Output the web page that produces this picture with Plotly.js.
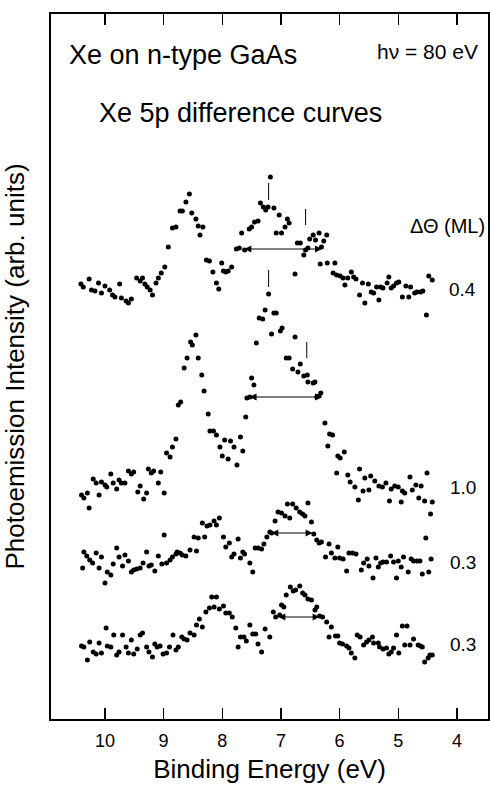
<!DOCTYPE html>
<html>
<head>
<meta charset="utf-8">
<script src="https://cdn.plot.ly/plotly-3.0.1.min.js"></script>
<style>html,body{margin:0;padding:0;background:#fff;}#chart{width:490px;height:789px;}</style>
</head>
<body>
<div id="chart"></div>
<script>
// Binding energy (eV) and photoemission intensity (arb. units, curves offset)
const e04 = [10.41,10.37,10.27,10.23,10.17,10.11,10.06,10.00,9.92,9.87,9.83,9.75,9.72,9.64,9.60,9.55,9.46,9.40,9.36,9.32,9.28,9.23,9.19,9.13,9.09,9.04,8.98,8.92,8.85,8.79,8.72,8.68,8.62,8.56,8.52,8.45,8.41,8.38,8.33,8.27,8.22,8.16,8.10,8.06,8.01,7.98,7.94,7.90,7.84,7.76,7.71,7.67,7.62,7.54,7.50,7.45,7.39,7.35,7.30,7.26,7.22,7.18,7.12,7.08,7.03,6.99,6.93,6.89,6.86,6.76,6.72,6.67,6.61,6.58,6.54,6.51,6.45,6.41,6.35,6.31,6.27,6.22,6.33,6.21,6.08,6.11,6.05,5.99,5.94,5.91,5.86,5.80,5.76,5.72,5.66,5.61,5.57,5.51,5.46,5.42,5.37,5.33,5.30,5.26,5.19,5.16,5.12,5.08,5.03,4.99,4.93,4.87,4.82,4.79,4.72,4.68,4.62,4.58,4.48,4.42,4.52];
const i04 = [43.5,43.2,44.0,42.9,42.8,43.6,42.6,43.3,42.9,42.4,42.2,43.5,42.1,41.8,41.6,42.0,44.1,43.8,44.1,43.5,43.2,42.9,42.4,43.6,44.1,44.6,45.2,47.2,49.1,49.2,50.8,50.8,51.7,52.5,50.6,50.0,49.3,48.4,49.2,45.9,45.8,44.7,43.6,43.0,45.6,44.8,44.7,44.8,45.2,47.0,47.1,48.6,46.9,49.0,49.2,49.7,49.8,51.6,51.2,50.9,51.2,54.2,51.1,48.6,50.4,48.6,49.2,50.0,49.6,44.5,47.6,47.6,46.4,46.9,47.1,48.0,48.4,47.9,48.6,47.2,47.8,48.4,45.5,45.6,45.6,44.6,44.4,44.3,44.1,43.4,44.1,44.7,44.2,44.0,42.4,43.6,41.6,43.5,42.7,42.6,43.2,41.9,43.2,43.1,43.6,44.2,43.1,43.3,43.6,43.7,42.2,43.3,42.2,43.2,42.6,42.7,42.7,42.8,44.3,43.9,40.4];

const e10 = [10.40,10.36,10.30,10.27,10.20,10.15,10.10,10.06,10.00,9.97,9.90,9.86,9.80,9.76,9.72,9.66,9.60,9.55,9.51,9.44,9.40,9.34,9.29,9.26,9.21,9.17,9.09,9.05,8.99,8.95,8.89,8.85,8.79,8.75,8.71,8.65,8.60,8.54,8.51,8.45,8.41,8.35,8.31,8.24,8.21,8.15,8.10,8.04,8.00,7.96,7.90,7.86,7.80,7.75,7.69,7.65,7.60,7.58,7.53,7.50,7.46,7.42,
  7.37,7.31,7.27,7.16,7.12,7.08,7.01,6.98,6.91,6.86,6.80,6.76,6.71,6.67,6.61,6.55,6.54,6.45,6.42,6.39,6.35,6.32,6.25,6.17,6.12,6.20,6.03,5.99,5.92,6.05,5.86,5.82,5.74,5.66,5.60,5.57,5.50,5.47,5.40,5.33,5.27,5.21,5.15,5.12,5.06,5.00,4.93,4.89,4.80,4.76,4.70,4.65,4.61,4.55,4.51,4.42,5.68,4.95,7.21,4.45];
const i10 = [22.4,22.1,22.6,21.1,24.0,23.6,22.4,23.7,23.4,23.2,24.5,23.6,23.0,23.9,23.6,23.6,24.8,24.5,24.7,22.7,23.3,22.0,22.6,25.0,24.6,24.8,23.6,24.7,22.6,26.6,26.2,27.2,28.0,31.4,31.7,35.1,36.1,37.7,37.4,38.4,36.1,34.4,32.8,30.5,28.8,28.8,28.4,27.2,26.3,27.9,26.0,27.8,27.2,25.4,28.2,26.8,30.2,32.1,32.2,34.1,33.4,37.6,
  40.1,40.0,40.9,38.5,40.6,40.6,38.8,39.1,36.1,36.1,35.0,38.2,34.7,35.5,34.3,34.4,33.7,33.6,33.7,32.2,32.3,32.6,29.6,28.5,28.4,27.3,26.3,26.1,26.7,24.6,24.4,23.7,23.2,25.0,22.8,24.1,22.9,24.3,23.8,23.3,23.2,23.6,21.8,23.0,23.3,23.2,22.8,22.6,24.2,22.9,23.4,22.1,23.3,21.8,24.6,21.7,21.9,21.7,42.5,20.5];

const e03a = [10.38,10.36,10.31,10.26,10.21,10.15,10.10,10.06,10.00,9.96,9.90,9.86,9.80,9.76,9.70,9.66,9.60,9.55,9.51,9.46,9.40,9.35,9.29,9.25,9.21,9.15,9.09,9.03,8.99,8.95,8.89,8.85,8.79,8.77,8.72,8.68,8.62,8.55,8.48,8.44,8.41,8.34,8.30,8.26,8.21,8.14,8.10,8.05,7.98,7.94,7.88,7.84,7.80,7.73,7.69,7.65,7.62,7.53,7.48,7.44,7.39,
  7.33,7.29,7.24,7.19,7.16,7.10,7.05,6.99,6.93,6.89,6.85,6.80,6.74,6.68,6.63,6.59,6.54,6.48,6.44,6.39,6.35,6.31,6.24,6.18,6.14,6.08,6.03,6.00,5.94,5.88,5.84,5.78,5.72,5.63,5.59,5.53,5.50,5.43,5.38,5.34,5.30,5.26,5.20,5.13,5.08,5.03,5.00,4.95,4.91,4.83,4.78,4.74,4.68,4.63,4.59,4.53,4.48,4.44];
const i03a = [15.1,16.7,16.3,15.9,15.6,16.6,15.1,16.2,13.6,14.7,14.4,15.5,17.1,16.2,15.3,16.4,15.8,14.7,14.9,15.0,15.1,15.6,16.7,15.3,15.4,14.8,16.3,15.5,18.4,15.6,15.9,16.2,16.5,16.7,16.6,16.4,16.3,16.9,18.2,16.8,18.1,19.6,18.2,19.3,19.4,19.8,19.4,20.1,18.2,17.2,17.6,16.2,16.5,18.0,16.1,16.7,16.5,15.6,14.7,17.1,17.1,
  17.0,17.5,18.2,18.7,18.6,19.8,20.7,20.6,20.3,21.5,20.1,21.5,21.1,20.7,20.5,20.3,21.6,19.7,18.5,17.9,17.6,17.7,16.2,17.5,16.6,16.1,17.2,16.1,16.0,14.8,16.6,16.6,16.5,14.9,15.6,16.0,15.3,14.1,16.1,15.2,15.6,15.7,15.7,16.3,15.7,14.1,15.8,15.2,16.2,14.7,16.0,15.8,15.8,15.8,14.5,18.1,14.7,16.0];

const e03b = [10.40,10.36,10.30,10.26,10.20,10.15,10.10,10.06,9.98,9.96,9.90,9.85,9.80,9.76,9.70,9.64,9.60,9.55,9.51,9.45,9.40,9.36,9.29,9.25,9.19,9.15,9.11,9.06,9.01,8.95,8.90,8.84,8.79,8.75,8.69,8.65,8.60,8.55,8.48,8.44,8.39,8.34,8.28,8.22,8.18,8.14,8.10,8.05,7.98,7.94,7.88,7.83,7.77,7.73,7.69,7.63,7.59,7.53,7.48,7.43,7.39,
  7.33,7.27,7.19,7.13,7.09,7.02,6.99,6.95,6.91,6.84,6.79,6.75,6.68,6.63,6.59,6.54,6.48,6.42,6.39,6.34,6.29,6.22,6.14,6.18,6.07,6.03,6.00,5.95,5.88,5.84,5.80,5.74,5.70,5.65,5.59,5.54,5.50,5.44,5.42,5.34,5.32,5.26,5.20,5.16,5.12,5.08,5.03,4.99,4.93,4.85,4.89,4.80,4.74,4.66,4.62,4.59,4.55,4.49,4.46,4.42];
const i03b = [7.3,7.2,5.9,7.7,6.7,6.5,7.6,6.6,9.1,7.3,7.2,8.4,6.4,6.7,8.4,7.2,6.6,7.9,6.5,7.0,8.4,8.6,7.2,6.7,6.2,7.5,7.2,7.3,6.5,6.6,7.2,8.4,6.9,7.2,8.2,8.0,7.9,8.6,8.4,9.4,10.0,9.2,10.7,11.1,12.2,11.2,12.2,11.0,11.3,10.6,10.6,10.2,9.1,7.2,8.2,8.2,7.8,9.4,8.5,8.5,7.5,
  6.7,9.0,8.2,10.7,10.2,10.4,11.4,11.2,12.4,13.2,12.8,12.9,13.3,12.6,12.4,12.0,11.9,10.9,11.2,10.3,10.2,9.7,9.2,8.2,8.3,8.3,7.6,7.5,7.3,7.1,6.6,6.1,8.4,8.2,7.4,7.7,7.9,8.2,7.6,7.6,7.2,7.0,7.1,6.5,6.7,7.1,8.4,6.6,9.3,9.3,7.4,7.4,8.0,7.4,7.3,7.2,5.7,6.1,6.4,6.4];

// coverage labels (ML) and their levels
const coverageLabels = ['0.4','1.0','0.3','0.3'];
const coverageLevels = [43.0,23.2,15.7,7.5];

// peak markers (vertical ticks): energy, lower and upper intensity
const markE  = [7.21, 6.58, 7.21, 6.56];
const markY0 = [51.9, 49.4, 43.2, 36.1];
const markY1 = [53.6, 51.0, 44.9, 37.7];

// double arrows (spin-orbit splitting): from, to, level
const arrowFrom = [7.65, 7.56, 7.19, 7.07];
const arrowTo   = [6.30, 6.30, 6.46, 6.34];
const arrowLvl  = [47.0, 32.2, 18.6, 10.2];

const xTicks = [10,9,8,7,6,5,4];

const FONT = 'Liberation Sans, Arial, Helvetica, sans-serif';
const series = [[e04,i04],[e10,i10],[e03a,i03a],[e03b,i03b]];
const traces = series.map(s => ({
  x: s[0], y: s[1], type: 'scatter', mode: 'markers',
  marker: {color: '#000', size: 5}, showlegend: false, hoverinfo: 'skip'
}));

const annotations = [];
coverageLabels.forEach((t, k) => annotations.push({
  x: 3.90, y: coverageLevels[k], xref: 'x', yref: 'y', text: t, showarrow: false,
  font: {family: FONT, size: 19, color: '#000'}, xanchor: 'center', yanchor: 'middle'
}));
annotations.push({x: 4.16, y: 49.3, xref: 'x', yref: 'y', text: 'ΔΘ (ML)', showarrow: false,
  font: {family: FONT, size: 20, color: '#000'}, xanchor: 'center', yanchor: 'middle'});
annotations.push({x: 10.65, y: 66.4, xref: 'x', yref: 'y', text: 'Xe on n-type GaAs', showarrow: false,
  font: {family: FONT, size: 27, color: '#000'}, xanchor: 'left', yanchor: 'middle'});
annotations.push({x: 10.14, y: 60.6, xref: 'x', yref: 'y', text: 'Xe 5p difference curves', showarrow: false,
  font: {family: FONT, size: 27, color: '#000'}, xanchor: 'left', yanchor: 'middle'});
annotations.push({x: 3.61, y: 66.8, xref: 'x', yref: 'y', text: 'hν = 80 eV', showarrow: false,
  font: {family: FONT, size: 21, color: '#000'}, xanchor: 'right', yanchor: 'middle'});
arrowFrom.forEach((a, k) => annotations.push({
  x: arrowTo[k], y: arrowLvl[k], ax: a, ay: arrowLvl[k], xref: 'x', yref: 'y', axref: 'x', ayref: 'y',
  text: '', showarrow: true, arrowside: 'end+start', arrowhead: 2, startarrowhead: 2,
  arrowsize: 1.4, startarrowsize: 1.4, arrowwidth: 1, arrowcolor: '#000'
}));

const shapes = markE.map((e, k) => ({
  type: 'line', xref: 'x', yref: 'y', x0: e, x1: e, y0: markY0[k], y1: markY1[k],
  line: {color: '#000', width: 1}
}));

const layout = {
  width: 490, height: 789,
  margin: {l: 51, r: 2, t: 14, b: 70},
  paper_bgcolor: '#fff', plot_bgcolor: '#fff',
  font: {family: FONT, color: '#000'},
  xaxis: {
    range: [10.92, 3.47], tickvals: xTicks, ticktext: xTicks.map(String),
    ticks: 'inside', ticklen: 11, tickwidth: 1.2, tickcolor: '#000',
    showline: true, linewidth: 2, linecolor: '#000', mirror: 'ticks',
    showgrid: false, zeroline: false, ticklabelstandoff: 4,
    tickfont: {family: FONT, size: 18, color: '#000'},
    title: {text: 'Binding Energy (eV)', font: {family: FONT, size: 26, color: '#000'}, standoff: 10}
  },
  yaxis: {
    range: [0, 70.5], showticklabels: false, ticks: '',
    showline: true, linewidth: 2, linecolor: '#000', mirror: true,
    showgrid: false, zeroline: false,
    title: {text: 'Photoemission Intensity (arb. units)', font: {family: FONT, size: 26, color: '#000'}, standoff: 18}
  },
  annotations: annotations,
  shapes: shapes
};

Plotly.newPlot('chart', traces, layout, {displayModeBar: false, staticPlot: true});
</script>
</body>
</html>
